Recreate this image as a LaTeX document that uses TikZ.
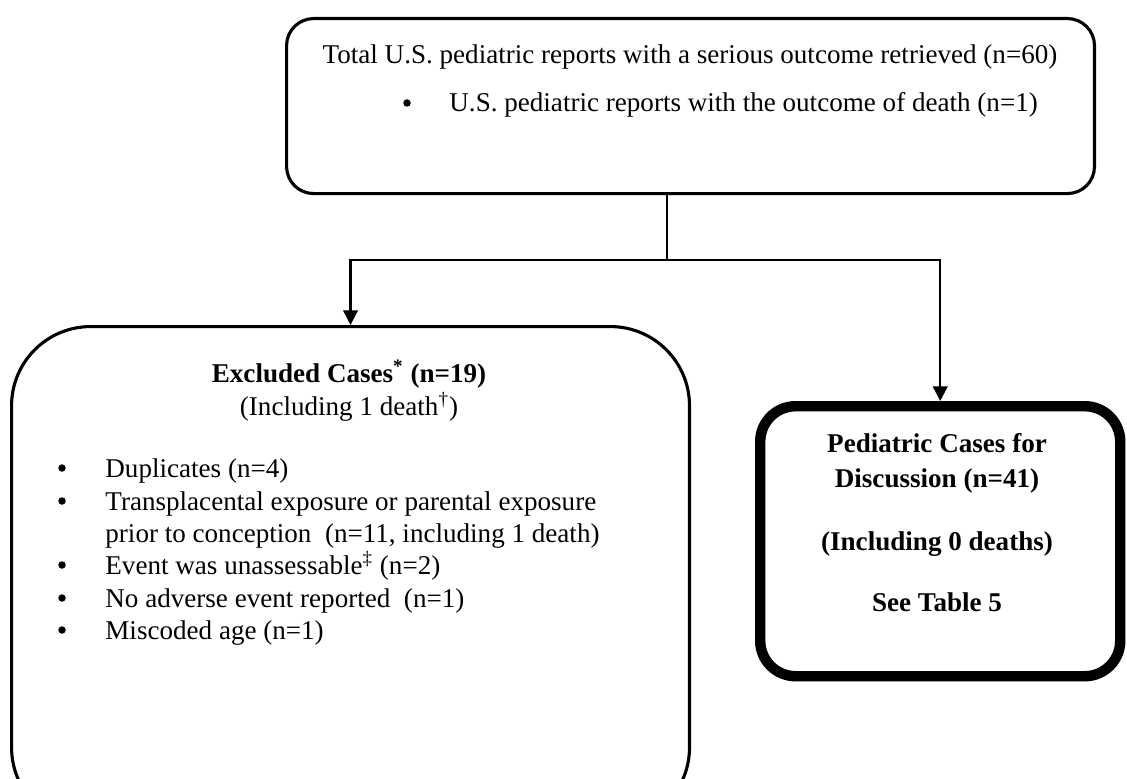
\documentclass[tikz,border=0pt]{standalone}
\usepackage{fontspec}
\setmainfont{Liberation Serif}
\usepackage{tikz}
\usetikzlibrary{arrows.meta}

\tikzset{
  box/.style={draw, line width=1.5pt, anchor=north west, inner sep=0pt},
  conn/.style={line width=1pt},
  arr/.style={conn, -{Triangle[width=7pt,length=7pt]}},
  txt/.style={draw=none, anchor=base, inner sep=0pt, font=\fontsize{13}{15}\selectfont},
  itm/.style={txt, anchor=base west},
  dot/.style={circle, fill, draw=none, inner sep=0pt, minimum size=3.6pt},
}

\begin{document}
\begin{tikzpicture}[x=0.48pt, y=-0.48pt]
             \useasboundingbox (0,0) rectangle (1127,778);

             \node[box, rounded corners=13pt, minimum width=387.8pt, minimum height=84pt] (total) at (285,17) {};
             \node[box, rounded corners=38pt, minimum width=325.4pt, minimum height=240pt] (excluded) at (10,325) {};
             \node[box, rounded corners=17pt, line width=5pt, minimum width=172.8pt, minimum height=129.6pt] (discussion) at (755,401) {};

             \node[txt] (totaltxt) at (690,64) {Total U.S. pediatric reports with a serious outcome retrieved (n=60)};
             \node[dot] (deathdot) at (407,103) {};
             \node[itm] (deathtxt) at (449,112) {U.S. pediatric reports with the outcome of death (n=1)};

             \coordinate (split) at (667,260);
             \draw[conn] (split |- total.south) -- (split);
             \draw[arr] (split) -| (excluded.north);
             \draw[arr] (split) -| (discussion.north);

             \node[txt] (exctitle) at (349,382) {\textbf{Excluded Cases\textsuperscript{*} (n=19)}};
             \node[txt] (excdeath) at (349,415) {(Including 1 death\textsuperscript{†})};

             \node[dot] (dot1) at (62,468) {};
             \node[itm] (dup) at (105,477) {Duplicates (n=4)};
             \node[dot] (dot2) at (62,501) {};
             \node[itm] (trans) at (105,510) {Transplacental exposure or parental exposure};
             \node[itm] (prior) at (105,542) {prior to conception~ (n=11, including 1 death)};
             \node[dot] (dot3) at (62,565) {};
             \node[itm] (unass) at (105,574) {Event was unassessable\textsuperscript{‡} (n=2)};
             \node[dot] (dot4) at (62,598) {};
             \node[itm] (noae) at (105,607) {No adverse event reported~ (n=1)};
             \node[dot] (dot5) at (62,630) {};
             \node[itm] (age) at (105,639) {Miscoded age (n=1)};

             \node[txt] (pedtitle) at (937,452) {\textbf{Pediatric Cases for}};
             \node[txt] (pedn) at (937,487) {\textbf{Discussion (n=41)}};
             \node[txt] (peddeath) at (937,550) {\textbf{(Including 0 deaths)}};
             \node[txt] (pedtable) at (937,611) {\textbf{See Table 5}};

\end{tikzpicture}
\end{document}
